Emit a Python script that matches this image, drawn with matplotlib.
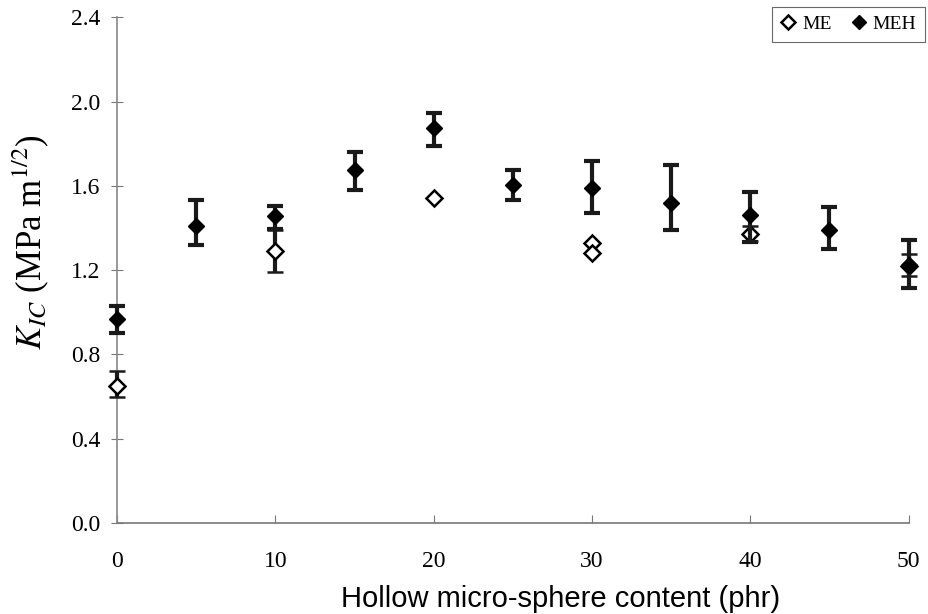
import matplotlib
matplotlib.use("Agg")
import matplotlib.pyplot as plt

# Data
me_x = [0, 10, 20, 30, 30, 40, 50]
me_y = [0.65, 1.29, 1.54, 1.33, 1.28, 1.37, 1.22]
me_err_lo = [0.05, 0.10, 0.0, 0.0, 0.0, 0.03, 0.05]
me_err_hi = [0.07, 0.10, 0.0, 0.0, 0.0, 0.04, 0.055]

meh_x = [0, 5, 10, 15, 20, 25, 30, 35, 40, 45, 50]
meh_y = [0.97, 1.41, 1.455, 1.675, 1.875, 1.605, 1.59, 1.52, 1.46, 1.39, 1.225]
meh_err_lo = [0.07, 0.09, 0.06, 0.095, 0.085, 0.07, 0.12, 0.13, 0.125, 0.09, 0.11]
meh_err_hi = [0.06, 0.125, 0.05, 0.085, 0.07, 0.07, 0.13, 0.18, 0.11, 0.11, 0.12]

x_ticks = [0, 10, 20, 30, 40, 50]
y_ticks = [0.0, 0.4, 0.8, 1.2, 1.6, 2.0, 2.4]

serif = ['Liberation Serif', 'DejaVu Serif']
plt.rcParams['mathtext.fontset'] = 'stix'
plt.rcParams['font.family'] = serif

fig = plt.figure(figsize=(9.29, 6.14), dpi=100)
ax = fig.add_axes([0.126, 0.148, 0.852, 0.824])

me_cont = ax.errorbar(me_x, me_y, yerr=[me_err_lo, me_err_hi], fmt='D', markerfacecolor='white',
                      markeredgecolor='black', markeredgewidth=1.8, markersize=8,
                      ecolor='#1a1a1a', elinewidth=3, capsize=6, capthick=3,
                      label='ME', zorder=3)
meh_cont = ax.errorbar(meh_x, meh_y, yerr=[meh_err_lo, meh_err_hi], fmt='D', color='black',
                       markersize=8, ecolor='#1a1a1a', elinewidth=3, capsize=6, capthick=3,
                       label='MEH', zorder=4)
for cont in (me_cont, meh_cont):
    for art in [cont[0]] + list(cont[1]) + list(cont[2]):
        art.set_clip_on(False)

ax.set_xlim(0, 50)
ax.set_ylim(0, 2.4)
ax.set_xticks(x_ticks)
ax.set_yticks(y_ticks)
ax.set_yticklabels([f"{v:.1f}" for v in y_ticks])
ax.set_xticklabels([str(v) for v in x_ticks])

for s in ['top', 'right']:
    ax.spines[s].set_visible(False)
ax.spines['left'].set_color('#888888')
ax.spines['bottom'].set_color('#777777')
ax.spines['left'].set_linewidth(1.2)
ax.spines['bottom'].set_linewidth(1.2)
ax.tick_params(axis='y', direction='inout', length=8, color='#777777', pad=8, labelsize=17)
ax.tick_params(axis='x', direction='in', length=6, color='#777777', pad=20, labelsize=17)

ax.set_ylabel(r'$K_{IC}$ (MPa m$^{1/2}$)', fontsize=25)
ax.set_xlabel('Hollow micro-sphere content (phr)', fontsize=21,
              fontfamily=['Liberation Sans Narrow', 'Liberation Sans', 'DejaVu Sans'])
ax.xaxis.set_label_coords(0.56, -0.122)
ax.yaxis.set_label_coords(-0.083, 0.555)

leg = fig.legend([me_cont[0], meh_cont[0]], ['ME', 'MEH'],
                 loc='upper right', bbox_to_anchor=(1.006, 1.005), ncol=2,
                 frameon=True, fancybox=False, edgecolor='#444444',
                 prop={'family': serif, 'size': 14}, handlelength=0.8,
                 handletextpad=0.3, columnspacing=1.0, borderpad=0.45)
leg.get_frame().set_linewidth(0.8)
for h in leg.legend_handles:
    h.set_markersize(7)

fig.savefig('out.png', dpi=100)
